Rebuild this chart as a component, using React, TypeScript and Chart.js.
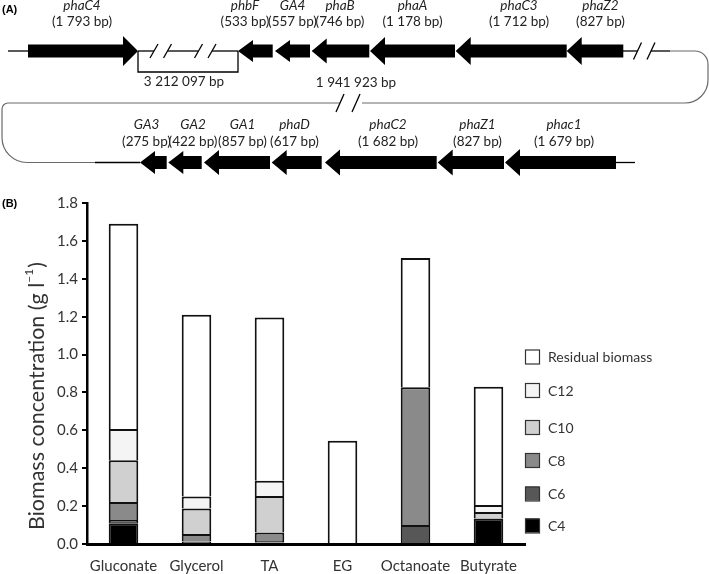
import React, { useEffect, useRef } from "react";
import { Chart, registerables } from "chart.js";

Chart.register(...registerables);

// ---------- Panel B data ----------
const categories = ["Gluconate", "Glycerol", "TA", "EG", "Octanoate", "Butyrate"];
const c4 = [0.11, 0.005, 0.008, 0, 0, 0.135];
const c6 = [0.017, 0.008, 0.008, 0, 0.1, 0];
const c8 = [0.095, 0.04, 0.045, 0, 0.727, 0];
const c10 = [0.22, 0.135, 0.192, 0, 0, 0.034];
const c12 = [0.165, 0.063, 0.081, 0, 0, 0.037];
const residual = [1.083, 0.959, 0.861, 0.545, 0.683, 0.624];
const yTicks = [0, 0.2, 0.4, 0.6, 0.8, 1.0, 1.2, 1.4, 1.6, 1.8];
const seriesNames = ["C4", "C6", "C8", "C10", "C12", "Residual biomass"];
const seriesColors = ["#000000", "#575757", "#8a8a8a", "#d0d0d0", "#f4f4f4", "#ffffff"];

// ---------- Panel A gene map data ----------
const row1Names = ["phaC4", "phbF", "GA4", "phaB", "phaA", "phaC3", "phaZ2"];
const row1Sizes = ["(1 793 bp)", "(533 bp)", "(557 bp)", "(746 bp)", "(1 178 bp)", "(1 712 bp)", "(827 bp)"];
const row2Names = ["GA3", "GA2", "GA1", "phaD", "phaC2", "phaZ1", "phac1"];
const row2Sizes = ["(275 bp)", "(422 bp)", "(857 bp)", "(617 bp)", "(1 682 bp)", "(827 bp)", "(1 679 bp)"];
const gapLabel1 = "3 212 097 bp";
const gapLabel2 = "1 941 923 bp";

// layout of the diagram (pixels): [x0, x1, headHeight, labelCenterX, pointsRight]
const row1Layout: [number, number, number, number, boolean][] = [
  [28, 138, 30, 82, true],
  [238, 272.7, 22, 245, false],
  [275, 310, 22, 292.5, false],
  [311.7, 369.3, 25, 340, false],
  [370, 455, 28, 412.5, false],
  [455.7, 566.7, 28, 519, false],
  [566.7, 623.3, 28, 600.5, false],
];
const row2Layout: [number, number, number, number, boolean][] = [
  [140, 166.7, 23, 146.5, false],
  [168.3, 201.7, 23, 193, false],
  [204, 270, 25, 242.5, false],
  [271.7, 321.7, 25, 294.5, false],
  [325, 436.7, 26, 388, false],
  [437.7, 504, 26, 477.5, false],
  [505, 616, 27, 564, false],
];
const legendY = [356.5, 390, 427, 460, 493.5, 525.5];

const FONT = "Lato, 'Open Sans', sans-serif";

function drawArrow(ctx: CanvasRenderingContext2D, x0: number, x1: number, y: number, headH: number, right: boolean) {
  const bodyH = 13;
  const headL = 15;
  ctx.beginPath();
  if (right) {
    ctx.moveTo(x0, y - bodyH / 2);
    ctx.lineTo(x1 - headL, y - bodyH / 2);
    ctx.lineTo(x1 - headL, y - headH / 2);
    ctx.lineTo(x1, y);
    ctx.lineTo(x1 - headL, y + headH / 2);
    ctx.lineTo(x1 - headL, y + bodyH / 2);
    ctx.lineTo(x0, y + bodyH / 2);
  } else {
    ctx.moveTo(x1, y - bodyH / 2);
    ctx.lineTo(x0 + headL, y - bodyH / 2);
    ctx.lineTo(x0 + headL, y - headH / 2);
    ctx.lineTo(x0, y);
    ctx.lineTo(x0 + headL, y + headH / 2);
    ctx.lineTo(x0 + headL, y + bodyH / 2);
    ctx.lineTo(x1, y + bodyH / 2);
  }
  ctx.closePath();
  ctx.fillStyle = "#000";
  ctx.fill();
}

function line(ctx: CanvasRenderingContext2D, x0: number, y0: number, x1: number, y1: number) {
  ctx.beginPath();
  ctx.moveTo(x0, y0);
  ctx.lineTo(x1, y1);
  ctx.stroke();
}

function slash(ctx: CanvasRenderingContext2D, cx: number, cy: number, h: number) {
  line(ctx, cx - 4, cy + h / 2, cx + 4, cy - h / 2);
}

function drawRow(ctx: CanvasRenderingContext2D, names: string[], sizes: string[], layout: [number, number, number, number, boolean][], y: number, nameY: number, sizeY: number) {
  layout.forEach((g, i) => {
    drawArrow(ctx, g[0], g[1], y, g[2], g[4]);
    ctx.fillStyle = "#222";
    ctx.textAlign = "center";
    ctx.textBaseline = "middle";
    ctx.font = `italic 13.5px ${FONT}`;
    ctx.fillText(names[i], g[3], nameY);
    ctx.font = `13.5px ${FONT}`;
    ctx.fillText(sizes[i], g[3], sizeY);
  });
}

const extrasPlugin = {
  id: "extras",
  afterDraw(chart: any) {
    const ctx: CanvasRenderingContext2D = chart.ctx;
    ctx.save();
    // panel letters
    ctx.fillStyle = "#000";
    ctx.font = "bold 11px Arial, 'Liberation Sans', sans-serif";
    ctx.textAlign = "left";
    ctx.textBaseline = "middle";
    ctx.fillText("(A)", 2, 10);
    ctx.fillText("(B)", 2, 204);

    // ---- gene map ----
    ctx.strokeStyle = "#000";
    ctx.lineWidth = 1.3;
    const y1 = 51;
    line(ctx, 8, y1, 28, y1);
    line(ctx, 138, y1, 154, y1);
    line(ctx, 167.5, y1, 198.5, y1);
    line(ctx, 212, y1, 238, y1);
    slash(ctx, 154, y1, 14);
    slash(ctx, 167.5, y1, 14);
    slash(ctx, 198.5, y1, 14);
    slash(ctx, 212, y1, 14);
    // bracket
    ctx.beginPath();
    ctx.moveTo(138, y1);
    ctx.lineTo(138, 72);
    ctx.lineTo(238, 72);
    ctx.lineTo(238, y1);
    ctx.stroke();
    // right end
    line(ctx, 623, y1, 637.5, y1);
    line(ctx, 651, y1, 670, y1);
    slash(ctx, 637.5, y1, 17);
    slash(ctx, 651, y1, 17);

    // connecting curve
    const y2 = 162.5;
    ctx.strokeStyle = "#6a6a6a";
    ctx.lineWidth = 1.2;
    ctx.beginPath();
    ctx.moveTo(670, y1);
    ctx.lineTo(695, y1);
    ctx.arcTo(708, y1, 708, 64, 13);
    ctx.lineTo(708, 80);
    ctx.arcTo(708, 103, 685, 103, 23);
    ctx.lineTo(362, 103);
    ctx.stroke();
    ctx.beginPath();
    ctx.moveTo(340, 103);
    ctx.lineTo(8, 103);
    ctx.arcTo(2, 103, 2, 109, 6);
    ctx.lineTo(2, 137);
    ctx.arcTo(2, y2, 27, y2, 25);
    ctx.lineTo(95, y2);
    ctx.stroke();
    ctx.strokeStyle = "#000";
    ctx.lineWidth = 1.3;
    slash(ctx, 340, 103, 18);
    slash(ctx, 356, 103, 18);
    line(ctx, 95, y2, 140, y2);
    line(ctx, 616, y2, 635, y2);

    drawRow(ctx, row1Names, row1Sizes, row1Layout, y1, 6, 22);
    drawRow(ctx, row2Names, row2Sizes, row2Layout, y2, 125, 142);
    ctx.font = `13.5px ${FONT}`;
    ctx.fillStyle = "#222";
    ctx.textAlign = "center";
    ctx.fillText(gapLabel1, 184, 82);
    ctx.fillText(gapLabel2, 356, 83);

    // ---- y axis title with superscript ----
    ctx.save();
    ctx.translate(37, 396);
    ctx.rotate(-Math.PI / 2);
    ctx.fillStyle = "#333";
    ctx.textBaseline = "middle";
    ctx.textAlign = "left";
    const mainFont = `21.5px ${FONT}`;
    const supFont = `12px ${FONT}`;
    const partA = "Biomass concentration (g l";
    const partS = "\u22121";
    const partC = ")";
    ctx.font = mainFont;
    const wA = ctx.measureText(partA).width;
    const wC = ctx.measureText(partC).width;
    ctx.font = supFont;
    const wS = ctx.measureText(partS).width;
    const total = wA + wS + wC + 1;
    let x = -total / 2;
    ctx.font = mainFont;
    ctx.fillText(partA, x, 0);
    x += wA;
    ctx.font = supFont;
    ctx.fillText(partS, x, -8);
    x += wS + 1;
    ctx.font = mainFont;
    ctx.fillText(partC, x, 0);
    ctx.restore();

    // ---- legend ----
    const order = [5, 4, 3, 2, 1, 0];
    ctx.font = `14px ${FONT}`;
    ctx.textAlign = "left";
    ctx.textBaseline = "middle";
    order.forEach((di, k) => {
      const ds = chart.data.datasets[di];
      const cy = legendY[k];
      ctx.fillStyle = ds.backgroundColor;
      ctx.fillRect(525, cy - 7, 14, 14);
      ctx.strokeStyle = "#333";
      ctx.lineWidth = 1.2;
      ctx.strokeRect(525.5, cy - 6.5, 14, 14);
      ctx.fillStyle = "#333";
      ctx.fillText(ds.label, 548, cy + 1);
    });
    ctx.restore();
  },
};

export default function App() {
  const ref = useRef<HTMLCanvasElement | null>(null);
  useEffect(() => {
    if (!ref.current) return;
    const seriesData = [c4, c6, c8, c10, c12, residual];
    const chart = new Chart(ref.current, {
      type: "bar",
      data: {
        labels: categories,
        datasets: seriesData.map((d, i) => ({
          label: seriesNames[i],
          data: d,
          backgroundColor: seriesColors[i],
          borderColor: "#111",
          borderWidth: 2,
          barPercentage: 0.405,
          categoryPercentage: 1,
        })),
      },
      options: {
        responsive: false,
        animation: false,
        devicePixelRatio: 1,
        layout: { padding: { top: 203, right: 184, bottom: 0, left: 0 } },
        plugins: {
          legend: { display: false },
          tooltip: { enabled: false },
          title: { display: false },
        },
        scales: {
          x: {
            stacked: true,
            grid: { display: false, drawTicks: false },
            border: { display: true, color: "#000", width: 3 },
            ticks: {
              font: { family: FONT, size: 15 },
              color: "#333",
              padding: 13,
              maxRotation: 0,
              minRotation: 0,
              autoSkip: false,
            },
            afterFit: (s: any) => {
              s.height = 30;
            },
          },
          y: {
            stacked: true,
            min: 0,
            max: 1.8,
            grid: { display: true, drawOnChartArea: false, drawTicks: true, tickLength: 5, color: "#000", lineWidth: 2 },
            border: { display: true, color: "#000", width: 2.5 },
            ticks: {
              font: { family: FONT, size: 15 },
              color: "#333",
              padding: 4,
              callback: (v: any) => Number(v).toFixed(1),
            },
            afterBuildTicks: (s: any) => {
              s.ticks = yTicks.map((v) => ({ value: v }));
            },
            afterFit: (s: any) => {
              s.width = 87;
            },
          },
        },
      },
      plugins: [extrasPlugin],
    });
    return () => chart.destroy();
  }, []);
  return (
    <div style={{ position: "fixed", left: 0, top: 0, width: 709, height: 574, background: "#fff" }}>
      <canvas ref={ref} width={709} height={574} style={{ width: 709, height: 574, display: "block" }} />
    </div>
  );
}
